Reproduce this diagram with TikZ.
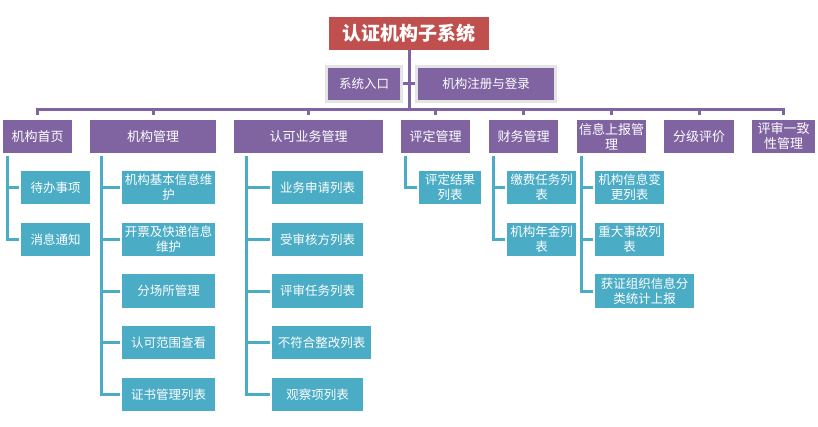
\documentclass[tikz,border=0pt]{standalone}
\usepackage{fontspec}
\newfontfamily\cjk{Noto Sans CJK SC}
\usetikzlibrary{calc}
\definecolor{purp}{HTML}{8064A2}
\definecolor{tealb}{HTML}{4BACC6}
\definecolor{redt}{HTML}{C0504D}
\definecolor{bord}{HTML}{E4E4E4}
\begin{document}
\begin{tikzpicture}[x=1pt,y=-1pt,
  titlebox/.style={fill=redt, text=white, inner sep=0pt, minimum height=33pt, align=center, font=\cjk\bfseries\fontsize{19}{22}\selectfont},
  subbox/.style={fill=purp, draw=bord, line width=3pt, text=white, inner sep=0pt, minimum height=35pt, align=center, font=\cjk\fontsize{12.5}{15}\selectfont},
  lone/.style={fill=purp, text=white, inner sep=0pt, minimum height=33pt, align=center, font=\cjk\fontsize{13}{15}\selectfont},
  ltwo/.style={fill=tealb, text=white, inner sep=0pt, minimum height=33pt, align=center, font=\cjk\fontsize{12.5}{15}\selectfont},
  pline/.style={draw=purp, line width=3pt},
  tline/.style={draw=tealb, line width=3pt, shorten >=2pt}]
\useasboundingbox[fill=white] (0,0) rectangle (818,427);

% top
\node[titlebox, minimum width=160pt] (T) at (409,33.5) {认证机构子系统};
\coordinate (bus) at (0,110);
\draw[pline] (T.south) -- (T.south |- bus);

\node[subbox, minimum width=75pt] (S1) at (364,84) {系统入口};
\node[subbox, minimum width=139pt] (S2) at (486,84) {机构注册与登录};
\draw[pline, line width=3pt] (S1.east) -- (S2.west);

% level 1
\node[lone, minimum width=69pt] (A) at (37.5,136.5) {机构首页};
\node[lone, minimum width=126pt] (B) at (153,136.5) {机构管理};
\node[lone, minimum width=149pt] (C) at (308.5,136.5) {认可业务管理};
\node[lone, minimum width=69pt] (D) at (435.5,136.5) {评定管理};
\node[lone, minimum width=69pt] (E) at (523.5,136.5) {财务管理};
\node[lone, minimum width=69pt] (F) at (611.5,136.5) {信息上报管\\理};
\node[lone, minimum width=70pt] (G) at (699,136.5) {分级评价};
\node[lone, minimum width=63pt] (H) at (783.5,136.5) {评审一致\\性管理};

\draw[pline, shorten <=5pt, shorten >=5pt] (A.north) -- (A.north |- bus) -- (H.north |- bus) -- (H.north);
\foreach \n in {B,C,D,E,F,G}
  \draw[pline, shorten >=5pt] (\n.north |- bus) -- (\n.north);

% level 2
\node[ltwo, minimum width=69pt] (A1) at (55.5,187.5) {待办事项};
\node[ltwo, minimum width=69pt] (A2) at (55.5,239.5) {消息通知};

\node[ltwo, minimum width=93pt] (B1) at (168.5,187.5) {机构基本信息维\\护};
\node[ltwo, minimum width=93pt] (B2) at (168.5,239.5) {开票及快递信息\\维护};
\node[ltwo, minimum width=93pt] (B3) at (168.5,291) {分场所管理};
\node[ltwo, minimum width=93pt] (B4) at (168.5,342.5) {认可范围查看};
\node[ltwo, minimum width=93pt] (B5) at (168.5,394.5) {证书管理列表};

\node[ltwo, minimum width=91pt] (C1) at (317.5,187.5) {业务申请列表};
\node[ltwo, minimum width=91pt] (C2) at (317.5,239.5) {受审核方列表};
\node[ltwo, minimum width=91pt] (C3) at (317.5,291) {评审任务列表};
\node[ltwo, minimum width=99pt] (C4) at (321.5,342.5) {不符合整改列表};
\node[ltwo, minimum width=91pt] (C5) at (317.5,394.5) {观察项列表};

\node[ltwo, minimum width=62pt] (D1) at (450,187.5) {评定结果\\列表};

\node[ltwo, minimum width=69pt] (E1) at (541.5,187.5) {缴费任务列\\表};
\node[ltwo, minimum width=69pt] (E2) at (541.5,239.5) {机构年金列\\表};

\node[ltwo, minimum width=69pt] (F1) at (629.5,187.5) {机构信息变\\更列表};
\node[ltwo, minimum width=69pt] (F2) at (629.5,239.5) {重大事故列\\表};
\node[ltwo, minimum width=99pt] (F3) at (644.5,291) {获证组织信息分\\类统计上报};

% teal connectors
\foreach \c in {A1,A2} \draw[tline] ($(A.south west)+(5,3)$) |- (\c.west);
\foreach \c in {B1,B2,B3,B4,B5} \draw[tline] ($(B.south west)+(12,3)$) |- (\c.west);
\foreach \c in {C1,C2,C3,C4,C5} \draw[tline] ($(C.south west)+(13,3)$) |- (\c.west);
\draw[tline] ($(D.south west)+(5,3)$) |- (D1.west);
\foreach \c in {E1,E2} \draw[tline] ($(E.south west)+(5,3)$) |- (\c.west);
\foreach \c in {F1,F2,F3} \draw[tline] ($(F.south west)+(5,3)$) |- (\c.west);
\end{tikzpicture}
\end{document}
